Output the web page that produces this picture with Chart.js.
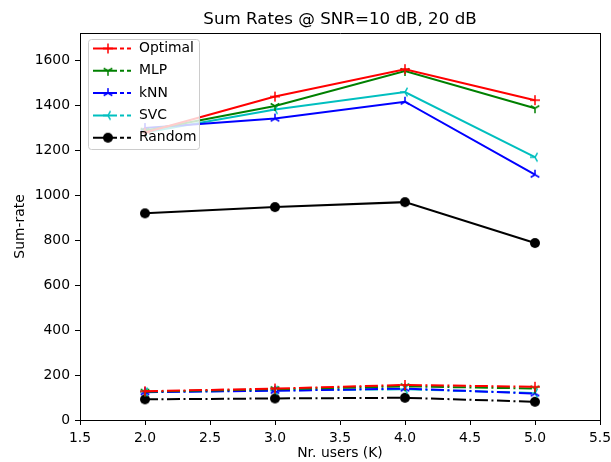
<!DOCTYPE html>
<html><head><meta charset="utf-8">
<script src="https://cdn.jsdelivr.net/npm/chart.js@4/dist/chart.umd.min.js"></script>
<style>html,body{margin:0;padding:0;background:#fff}#wrap{width:611px;height:462px}</style>
</head><body><div id="wrap"><canvas id="c" width="611" height="462"></canvas></div>
<script>
// ---- data ----
const users = [2, 3, 4, 5];
const optimal20 = [1280, 1440, 1562, 1424];
const mlp20 = [1288, 1398, 1554, 1388];
const knn20 = [1300, 1342, 1417, 1092];
const svc20 = [1280, 1382, 1460, 1170];
const random20 = [920, 948, 970, 788];
const optimal10 = [128, 140, 156, 148];
const mlp10 = [126, 137, 150, 140];
const knn10 = [124, 130, 140, 118];
const svc10 = [125, 132, 137, 120];
const random10 = [92, 96, 99, 81];
const methodNames = ['Optimal', 'MLP', 'kNN', 'SVC', 'Random'];
const xTicks = [1.5, 2.0, 2.5, 3.0, 3.5, 4.0, 4.5, 5.0, 5.5];
const yTicks = [0, 200, 400, 600, 800, 1000, 1200, 1400, 1600];
const titleText = 'Sum Rates @ SNR=10 dB, 20 dB';
const xLabel = 'Nr. users (K)';
const yLabel = 'Sum-rate';

// ---- styles ----
const FONT = 'DejaVu Sans';
const colors = ['#ff0000', '#008000', '#0000ff', '#00bfbf', '#000000'];
const markerTypes = ['plus', 'tri_down', 'tri_up', 'tri_left', 'circle'];
const vals20 = [optimal20, mlp20, knn20, svc20, random20];
const vals10 = [optimal10, mlp10, knn10, svc10, random10];

function makeMarker(type, color) {
  const s = 16, c = document.createElement('canvas');
  c.width = s; c.height = s;
  const g = c.getContext('2d'), m = s / 2, r = 5;
  g.strokeStyle = color; g.fillStyle = color; g.lineWidth = 1.5;
  g.beginPath();
  if (type === 'plus') {
    g.moveTo(m - r, m); g.lineTo(m + r, m); g.moveTo(m, m - r); g.lineTo(m, m + r); g.stroke();
  } else if (type === 'circle') {
    g.arc(m, m, r, 0, Math.PI * 2); g.fill();
  } else {
    const dirs = { tri_down: [90, 210, 330], tri_up: [270, 30, 150], tri_left: [180, 300, 60] }[type];
    dirs.forEach(a => { const t = a * Math.PI / 180; g.moveTo(m, m); g.lineTo(m + r * Math.cos(t), m + r * Math.sin(t)); });
    g.stroke();
  }
  return c;
}
const markers = markerTypes.map((t, i) => makeMarker(t, colors[i]));

const datasets = [];
methodNames.forEach((name, i) => {
  datasets.push({
    label: name + ' 20 dB',
    data: users.map((x, k) => ({ x: x, y: vals20[i][k] })),
    borderColor: colors[i], backgroundColor: colors[i], borderWidth: 2,
    pointStyle: markers[i], pointRadius: 5, fill: false, tension: 0
  });
});
methodNames.forEach((name, i) => {
  datasets.push({
    label: name + ' 10 dB',
    data: users.map((x, k) => ({ x: x, y: vals10[i][k] })),
    borderColor: colors[i], backgroundColor: colors[i], borderWidth: 2,
    borderDash: [13, 3.5, 2, 3.5],
    pointStyle: markers[i], pointRadius: 5, fill: false, tension: 0
  });
});

const legendPlugin = {
  id: 'mplLegend',
  afterDatasetsDraw(chart) {
    const ctx = chart.ctx;
    ctx.save();
    const bx = 88.5, by = 39.5, bw = 111, bh = 110, rr = 3;
    ctx.beginPath();
    ctx.moveTo(bx + rr, by); ctx.lineTo(bx + bw - rr, by); ctx.arcTo(bx + bw, by, bx + bw, by + rr, rr);
    ctx.lineTo(bx + bw, by + bh - rr); ctx.arcTo(bx + bw, by + bh, bx + bw - rr, by + bh, rr);
    ctx.lineTo(bx + rr, by + bh); ctx.arcTo(bx, by + bh, bx, by + bh - rr, rr);
    ctx.lineTo(bx, by + rr); ctx.arcTo(bx, by, bx + rr, by, rr); ctx.closePath();
    ctx.fillStyle = 'rgba(255,255,255,0.8)'; ctx.fill();
    ctx.strokeStyle = '#cccccc'; ctx.lineWidth = 1; ctx.stroke();
    methodNames.forEach((name, i) => {
      const y = 48.5 + i * 22.3;
      ctx.strokeStyle = colors[i]; ctx.lineWidth = 2; ctx.setLineDash([]);
      ctx.beginPath(); ctx.moveTo(93, y); ctx.lineTo(117, y);
      ctx.moveTo(120, y); ctx.lineTo(124, y);
      ctx.moveTo(127, y); ctx.lineTo(131, y); ctx.stroke();
      ctx.drawImage(markers[i], 108 - 8, y - 8);
      ctx.fillStyle = '#000'; ctx.font = '13.9px "' + FONT + '"';
      ctx.textBaseline = 'middle'; ctx.textAlign = 'left';
      ctx.fillText(name, 139, y);
    });
    ctx.restore();
  }
};

const tickFont = { family: FONT, size: 13.9 };
new Chart(document.getElementById('c'), {
  type: 'line',
  data: { datasets: datasets },
  plugins: [legendPlugin],
  options: {
    responsive: false, animation: false, devicePixelRatio: 1,
    layout: { padding: 0 },
    plugins: { legend: { display: false }, tooltip: { enabled: false }, title: { display: false } },
    scales: {
      x: {
        type: 'linear', position: 'bottom', min: 1.5, max: 5.5,
        afterBuildTicks: s => { s.ticks = xTicks.map(v => ({ value: v })); },
        afterFit: s => { s.height = 42; s.paddingRight = 0; s.paddingLeft = 0; },
        ticks: { color: '#000', font: tickFont, padding: 5, maxRotation: 0, autoSkip: false, callback: v => Number(v).toFixed(1) },
        grid: { drawOnChartArea: false, drawTicks: true, tickLength: 5, tickColor: '#000', tickWidth: 1 },
        border: { display: true, color: '#000', width: 1 },
        title: { display: true, text: xLabel, color: '#000', font: tickFont, padding: { top: 0, bottom: 0 } }
      },
      x2: {
        type: 'linear', position: 'top', min: 1.5, max: 5.5,
        afterFit: s => { s.height = 33; },
        ticks: { display: false },
        grid: { drawOnChartArea: false, drawTicks: false },
        border: { display: true, color: '#000', width: 1 },
        title: { display: true, text: titleText, color: '#000', font: { family: FONT, size: 16.7 }, padding: { top: 10, bottom: 0 } }
      },
      y: {
        type: 'linear', position: 'left', min: 0, max: 1723,
        afterBuildTicks: s => { s.ticks = yTicks.map(v => ({ value: v })); },
        afterFit: s => { s.width = 80; },
        ticks: { color: '#000', font: tickFont, padding: 5, autoSkip: false, callback: v => String(v) },
        grid: { drawOnChartArea: false, drawTicks: true, tickLength: 5, tickColor: '#000', tickWidth: 1 },
        border: { display: true, color: '#000', width: 1 },
        title: { display: true, text: yLabel, color: '#000', font: tickFont, padding: { top: 12, bottom: 0 } }
      },
      y2: {
        type: 'linear', position: 'right', min: 0, max: 1723,
        afterFit: s => { s.width = 11; },
        ticks: { display: false },
        grid: { drawOnChartArea: false, drawTicks: false },
        border: { display: true, color: '#000', width: 1 }
      }
    }
  }
});
</script>
</body></html>
